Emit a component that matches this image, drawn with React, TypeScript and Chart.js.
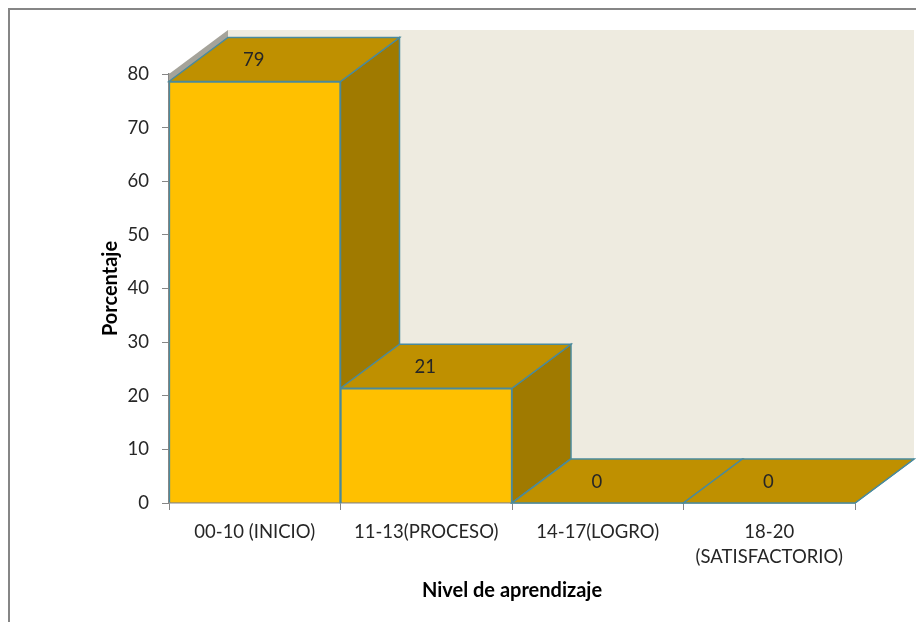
import React, { useEffect, useRef } from "react";
import { Chart, registerables } from "chart.js";

Chart.register(...registerables);

const categories = ["00-10 (INICIO)", "11-13(PROCESO)", "14-17(LOGRO)", ["18-20", "(SATISFACTORIO)"]];
const porcentajes = [78.6, 21.4, 0, 0];
const yAxisTitle = "Porcentaje";
const xAxisTitle = "Nivel de aprendizaje";

const DEPTH_X = 59;
const DEPTH_Y = 44;
const FONT = "Lato, Carlito, Calibri, sans-serif";
const EDGE = "#4a8a9c";
const AXIS = "#868686";

function poly(ctx: CanvasRenderingContext2D, pts: number[][], fill: string, stroke?: string) {
  ctx.beginPath();
  pts.forEach((p, i) => (i ? ctx.lineTo(p[0], p[1]) : ctx.moveTo(p[0], p[1])));
  ctx.closePath();
  ctx.fillStyle = fill;
  ctx.fill();
  if (stroke) {
    ctx.strokeStyle = stroke;
    ctx.lineWidth = 1.5;
    ctx.stroke();
  }
}

const box3d = {
  id: "box3d",
  beforeDraw(chart: any) {
    const { ctx, width, height } = chart;
    ctx.save();
    ctx.fillStyle = "#ffffff";
    ctx.fillRect(0, 0, width, height);
    ctx.strokeStyle = AXIS;
    ctx.lineWidth = 2;
    ctx.strokeRect(9, 9, width + 20, height + 20);
    ctx.restore();
  },
  beforeDatasetsDraw(chart: any) {
    const { ctx, chartArea: a } = chart;
    const { left, right, top, bottom } = a;
    ctx.save();
    poly(ctx, [[left, top], [left + DEPTH_X, top - DEPTH_Y], [left + DEPTH_X, bottom - DEPTH_Y], [left, bottom]], "#a5a39a");
    poly(ctx, [[left + DEPTH_X, top - DEPTH_Y], [right + DEPTH_X, top - DEPTH_Y], [right + DEPTH_X, bottom - DEPTH_Y], [left + DEPTH_X, bottom - DEPTH_Y]], "#eeebe0");
    chart.getDatasetMeta(0).data.forEach((bar: any) => {
      const p = bar.getProps(["x", "y", "base", "width"], true);
      const l = p.x - p.width / 2;
      const r = p.x + p.width / 2;
      const t = p.y;
      const b = p.base;
      poly(ctx, [[r, t], [r + DEPTH_X, t - DEPTH_Y], [r + DEPTH_X, b - DEPTH_Y], [r, b]], "#a07a00", EDGE);
      poly(ctx, [[l, t], [r, t], [r + DEPTH_X, t - DEPTH_Y], [l + DEPTH_X, t - DEPTH_Y]], "#bf9000", EDGE);
    });
    ctx.restore();
  },
  afterDatasetsDraw(chart: any) {
    const { ctx } = chart;
    ctx.save();
    ctx.font = `18.5px ${FONT}`;
    ctx.fillStyle = "#262626";
    ctx.textAlign = "center";
    ctx.textBaseline = "middle";
    chart.getDatasetMeta(0).data.forEach((bar: any, i: number) => {
      const p = bar.getProps(["x", "y"], true);
      ctx.fillText(String(Math.round(porcentajes[i])), p.x - 1, p.y - 21);
    });
    ctx.restore();
  },
};

export default function App() {
  const ref = useRef<HTMLCanvasElement>(null);
  useEffect(() => {
    document.body.style.margin = "0";
    const chart = new Chart(ref.current as HTMLCanvasElement, {
      type: "bar",
      data: {
        labels: categories as any,
        datasets: [
          {
            data: porcentajes,
            backgroundColor: "#ffc000",
            borderColor: EDGE,
            borderWidth: 1.5,
            barPercentage: 1,
            categoryPercentage: 1,
          },
        ],
      },
      plugins: [box3d],
      options: {
        responsive: false,
        animation: false,
        layout: { padding: { left: 99, top: 74, right: 61, bottom: 17 } },
        plugins: { legend: { display: false }, tooltip: { enabled: false } },
        scales: {
          x: {
            z: 1,
            grid: { drawOnChartArea: false, color: AXIS, tickLength: 7, offset: true },
            border: { color: AXIS, width: 1.5 },
            ticks: { color: "#262626", font: { family: FONT, size: 18.5, lineHeight: 1.35 }, padding: 10, maxRotation: 0, autoSkip: false },
            title: { display: true, text: xAxisTitle, color: "#000000", font: { family: FONT, size: 20, weight: "bold" }, padding: { top: 0, bottom: 2 } },
            afterFit(scale: any) {
              scale.height = 622 - 503 - 17;
            },
          },
          y: {
            z: 1,
            min: 0,
            max: 80,
            grid: { drawOnChartArea: false, color: AXIS, tickLength: 7 },
            border: { color: AXIS, width: 1.5 },
            ticks: { stepSize: 10, color: "#262626", font: { family: FONT, size: 18.5 }, padding: 13 },
            title: { display: true, text: yAxisTitle, color: "#000000", font: { family: FONT, size: 20, weight: "bold" }, padding: { top: 0, bottom: 0 } },
            afterFit(scale: any) {
              scale.width = 169 - 99;
            },
          },
        },
      },
    } as any);
    return () => chart.destroy();
  }, []);
  return <canvas ref={ref} width={916} height={622} style={{ display: "block" }} />;
}
